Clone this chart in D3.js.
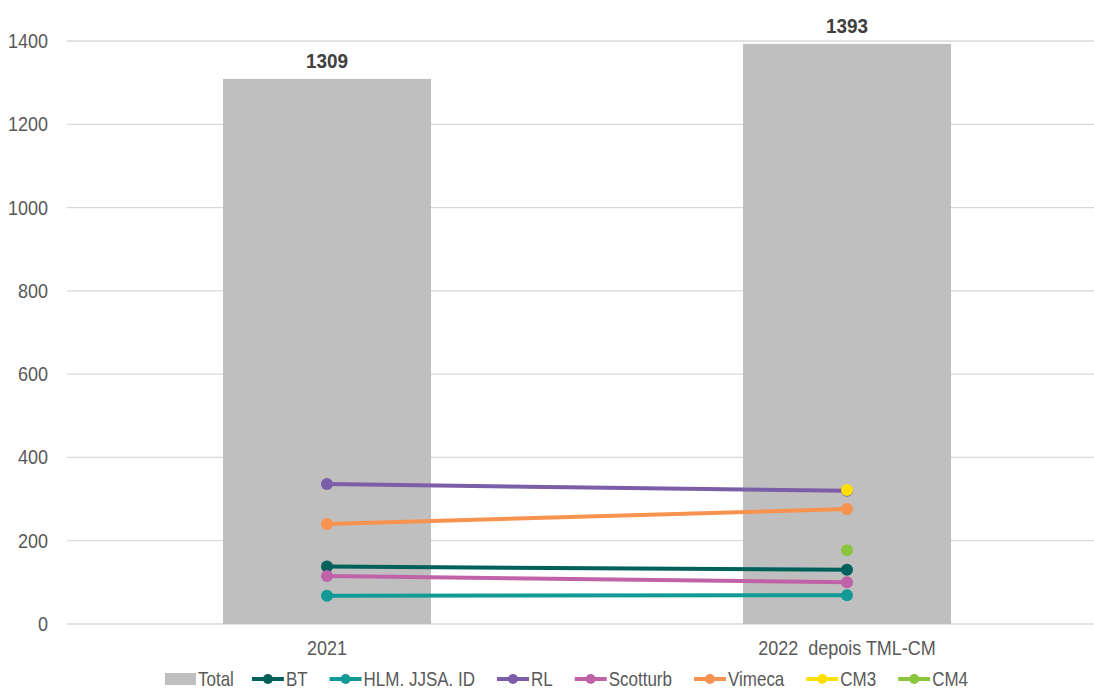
<!DOCTYPE html>
<html>
<head>
<meta charset="utf-8">
<script src="https://cdn.jsdelivr.net/npm/d3@7"></script>
<style>
  body { margin: 0; background: #fff; }
  svg { display: block; font-family: "Liberation Sans Narrow", "Arial Narrow", "Liberation Sans", Arial, sans-serif; }
</style>
</head>
<body>
<div class="chart"></div>
<script>
const categories = ["2021", "2022  depois TML-CM"]
const totals = [1309, 1393]
const seriesNames = ["BT", "HLM. JJSA. ID", "RL", "Scotturb", "Vimeca", "CM3", "CM4"]
const seriesColors = ["#00605b", "#119a96", "#7b5ea7", "#c062a8", "#f7924f", "#ffe000", "#8cc63f"]
const BT = [138, 130]
const HLM = [68, 69]
const RL = [336, 320]
const Scotturb = [115, 100]
const Vimeca = [240, 276]
const CM3 = [null, 322]
const CM4 = [null, 177]
const yTicks = [0, 200, 400, 600, 800, 1000, 1200, 1400]

const seriesValues = [BT, HLM, RL, Scotturb, Vimeca, CM3, CM4]

const width = 1094, height = 695
const margin = {top: 41, left: 67, bottom: 71}
const sx = 0.9 // condense text like a narrow font
const lsx = 0.85 // legend text is a bit tighter

const svg = d3.select(".chart")
    .append("svg")
        .attr("width", width)
        .attr("height", height)

let x = d3.scaleBand()
    .domain(categories)
    .range([margin.left, 1107])
    .paddingInner(0.6)
    .paddingOuter(0.3)

let y = d3.scaleLinear()
    .domain([0, 1400])
    .range([height - margin.bottom, margin.top])

function place(px, py, k) {
    return "translate(" + px + "," + py + ") scale(" + (k || sx) + ",1)"
}

// grid lines
svg.append("g")
    .selectAll("line")
    .data(yTicks)
    .enter()
    .append("line")
        .attr("x1", margin.left)
        .attr("x2", width)
        .attr("y1", d => y(d))
        .attr("y2", d => y(d))
        .attr("stroke", "#d9d9d9")
        .attr("stroke-width", 1.3)

// y axis labels
svg.append("g")
    .selectAll("text")
    .data(yTicks)
    .enter()
    .append("text")
        .attr("transform", d => place(48, y(d) + 7))
        .attr("text-anchor", "end")
        .attr("fill", "#595959")
        .style("font-size", "20px")
        .text(d => d)

// total bars
svg.append("g")
    .selectAll("rect")
    .data(totals)
    .enter()
    .append("rect")
        .attr("x", (d, i) => x(categories[i]))
        .attr("y", d => y(d))
        .attr("width", x.bandwidth())
        .attr("height", d => y(0) - y(d))
        .attr("fill", "#bfbfbf")

svg.append("g")
    .selectAll("text")
    .data(totals)
    .enter()
    .append("text")
        .attr("transform", (d, i) => place(x(categories[i]) + x.bandwidth() / 2, y(d) - 11))
        .attr("text-anchor", "middle")
        .attr("fill", "#404040")
        .style("font-size", "21px")
        .style("font-weight", "bold")
        .text(d => d)

// x axis labels
svg.append("g")
    .selectAll("text")
    .data(categories)
    .enter()
    .append("text")
        .attr("transform", d => place(x(d) + x.bandwidth() / 2, y(0) + 31))
        .attr("text-anchor", "middle")
        .attr("fill", "#595959")
        .style("font-size", "20px")
        .style("white-space", "pre")
        .text(d => d)

// lines
const cx = i => x(categories[i]) + x.bandwidth() / 2
const line = d3.line()
    .defined(d => d != null)
    .x((d, i) => cx(i))
    .y(d => y(d))

seriesValues.forEach((vals, s) => {
    svg.append("path")
        .attr("d", line(vals))
        .attr("fill", "none")
        .attr("stroke", seriesColors[s])
        .attr("stroke-width", 4)
    svg.append("g")
        .selectAll("circle")
        .data(vals.map((v, i) => ({v: v, i: i})).filter(d => d.v != null))
        .enter()
        .append("circle")
            .attr("cx", d => cx(d.i))
            .attr("cy", d => y(d.v))
            .attr("r", 6)
            .attr("fill", seriesColors[s])
})

// legend
const legend = svg.append("g")
let lx = 165
const ly = 679
legend.append("rect")
    .attr("x", lx).attr("y", ly - 6).attr("width", 31).attr("height", 12)
    .attr("fill", "#bfbfbf")
let t = legend.append("text")
    .attr("transform", place(lx + 33, ly + 7, lsx))
    .attr("fill", "#595959")
    .style("font-size", "20px")
    .text("Total")
lx = lx + 33 + t.node().getComputedTextLength() * lsx + 18

seriesNames.forEach((name, s) => {
    legend.append("line")
        .attr("x1", lx).attr("x2", lx + 32)
        .attr("y1", ly).attr("y2", ly)
        .attr("stroke", seriesColors[s])
        .attr("stroke-width", 4)
    legend.append("circle")
        .attr("cx", lx + 16).attr("cy", ly).attr("r", 5)
        .attr("fill", seriesColors[s])
    let tt = legend.append("text")
        .attr("transform", place(lx + 34, ly + 7, lsx))
        .attr("fill", "#595959")
        .style("font-size", "20px")
        .text(name)
    lx = lx + 34 + tt.node().getComputedTextLength() * lsx + 22
})
</script>
</body>
</html>
